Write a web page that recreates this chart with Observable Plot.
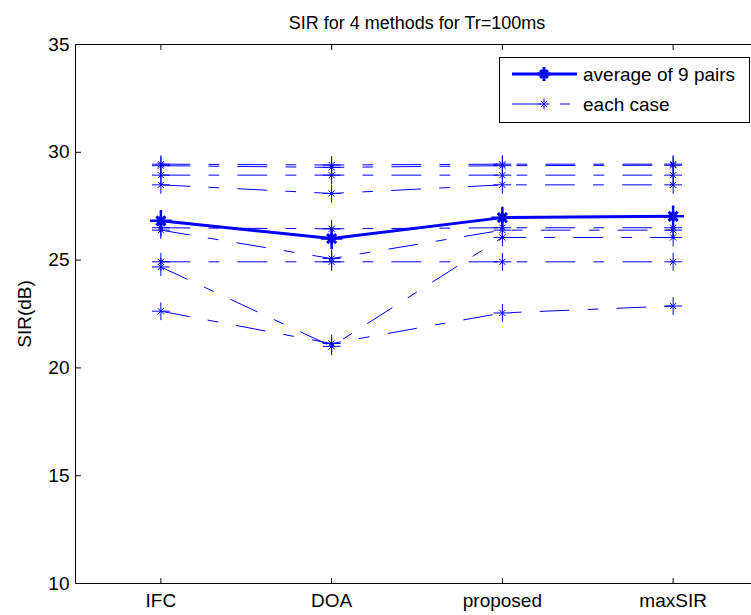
<!DOCTYPE html>
<html>
<head>
<meta charset="utf-8">
<script src="https://cdn.jsdelivr.net/npm/d3@7"></script>
<script src="https://cdn.jsdelivr.net/npm/@observablehq/plot@0.6"></script>
<style>
html, body { margin: 0; padding: 0; overflow: hidden; background: #fff; }
#wrap { position: relative; width: 751px; height: 615px; overflow: hidden; }
#legend { position: absolute; left: 499px; top: 57px; width: 249px; height: 64px; border: 1px solid #000; background: #fff; }
</style>
</head>
<body>
<div id="wrap"><div id="chart"></div><div id="legend"></div></div>
<script>
// ---- data ----
const methods = ["IFC", "DOA", "proposed", "maxSIR"];
const titleText = "SIR for 4 methods for Tr=100ms";
const yLabel = "SIR(dB)";
const yTicks = [10, 15, 20, 25, 30, 35];
const legendLabels = ["average of 9 pairs", "each case"];

// average over the 9 pairs
const average = [26.82, 26.0, 26.97, 27.03];

// each of the 9 cases (IFC, DOA, proposed, maxSIR)
const case1 = [29.45, 29.41, 29.45, 29.45];
const case2 = [29.38, 29.30, 29.38, 29.40];
const case3 = [28.94, 28.94, 28.94, 28.94];
const case4 = [28.49, 28.09, 28.49, 28.49];
const case5 = [26.50, 26.45, 26.50, 26.50];
const case6 = [26.39, 25.07, 26.39, 26.39];
const case7 = [24.92, 24.92, 24.92, 24.92];
const case8 = [24.68, 21.00, 26.05, 26.05];
const case9 = [22.63, 21.13, 22.55, 22.87];
const cases = [case1, case2, case3, case4, case5, case6, case7, case8, case9];

// ---- tables ----
const xTicks = methods.map((m, i) => i + 1);
const caseTable = cases.flatMap((vals, c) => vals.map((v, i) => ({caseId: c, x: i + 1, y: v})));
const avgTable = average.map((v, i) => ({x: i + 1, y: v}));

const blue = "#0000ff";
const dash = "29,19,10,19";
const font = "'Liberation Sans', Arial, Helvetica, sans-serif";
const tickShape = {draw(ctx, l) { ctx.moveTo(0, 0); ctx.lineTo(0, -l); }};
const tickOpts = {length: 5, anchor: "start", shape: tickShape, stroke: "#000", strokeWidth: 1};

const chart = Plot.plot({
  width: 759,
  height: 615,
  marginLeft: 75,
  marginRight: 1,
  marginTop: 44,
  marginBottom: 32,
  style: {fontFamily: font, maxWidth: "none", background: "#fff", overflow: "hidden"},
  x: {domain: [0.5, 4.5], axis: null},
  y: {domain: [10, 35], axis: null},
  marks: [
    Plot.frame({stroke: "#000", strokeWidth: 1}),
    Plot.axisX(xTicks, {anchor: "bottom", tickSize: 0, tickPadding: 10, fontSize: 19, tickFormat: d => methods[d - 1], label: null}),
    Plot.axisY(yTicks, {anchor: "left", tickSize: 0, tickPadding: 6, fontSize: 19, label: null}),
    Plot.vector(xTicks, {x: d => d, frameAnchor: "bottom", rotate: 0, ...tickOpts}),
    Plot.vector(xTicks, {x: d => d, frameAnchor: "top", rotate: 180, ...tickOpts}),
    Plot.vector(yTicks, {y: d => d, frameAnchor: "left", rotate: 90, ...tickOpts}),
    Plot.vector(yTicks, {y: d => d, frameAnchor: "right", rotate: -90, ...tickOpts}),
    Plot.text([titleText], {frameAnchor: "top", lineAnchor: "bottom", dy: -16, fontSize: 18, fill: "#000"}),
    Plot.text([yLabel], {frameAnchor: "left", rotate: -90, dx: -51, textAnchor: "middle", lineAnchor: "middle", fontSize: 19, fill: "#000"}),
    // average
    Plot.line(avgTable, {x: "x", y: "y", stroke: blue, strokeWidth: 3}),
    Plot.dot(avgTable, {x: "x", y: "y", symbol: "plus", r: 7, stroke: blue, strokeWidth: 2.5}),
    Plot.dot(avgTable, {x: "x", y: "y", symbol: "times", r: 4.2, stroke: blue, strokeWidth: 3}),
    Plot.dot(avgTable, {x: "x", y: "y", symbol: "diamond", r: 4, fill: blue}),
    // each case
    Plot.line(caseTable, {x: "x", y: "y", z: "caseId", stroke: blue, strokeWidth: 1, strokeDasharray: dash}),
    Plot.dot(caseTable, {x: "x", y: "y", symbol: "plus", r: 5.8, stroke: blue, strokeWidth: 1}),
    Plot.dot(caseTable, {x: "x", y: "y", symbol: "times", r: 2.9, stroke: blue, strokeWidth: 1})
  ]
});
document.getElementById("chart").appendChild(chart);

// ---- legend ----
const lg = d3.select("#legend").append("svg").attr("width", 249).attr("height", 64)
  .style("font-family", font).style("display", "block");
const rows = [
  {label: legendLabels[0], y: 16, w: 3, dash: null, pr: 7, tr: 5.5},
  {label: legendLabels[1], y: 46, w: 1, dash: dash, pr: 5.5, tr: 4}
];
rows.forEach(r => {
  const mw = r.w === 3 ? 3 : 1;
  lg.append("line").attr("x1", 12).attr("x2", 77).attr("y1", r.y).attr("y2", r.y)
    .attr("stroke", blue).attr("stroke-width", r.w).attr("stroke-dasharray", r.dash);
  lg.append("line").attr("x1", 44 - r.pr).attr("x2", 44 + r.pr).attr("y1", r.y).attr("y2", r.y)
    .attr("stroke", blue).attr("stroke-width", mw);
  lg.append("line").attr("x1", 44).attr("x2", 44).attr("y1", r.y - r.pr).attr("y2", r.y + r.pr)
    .attr("stroke", blue).attr("stroke-width", mw);
  const t = r.tr * 0.7;
  lg.append("line").attr("x1", 44 - t).attr("x2", 44 + t).attr("y1", r.y - t).attr("y2", r.y + t)
    .attr("stroke", blue).attr("stroke-width", mw);
  lg.append("line").attr("x1", 44 - t).attr("x2", 44 + t).attr("y1", r.y + t).attr("y2", r.y - t)
    .attr("stroke", blue).attr("stroke-width", mw);
  lg.append("text").attr("x", 83).attr("y", r.y).attr("dy", "0.35em")
    .attr("font-size", 19).attr("fill", "#000").text(r.label);
});
</script>
</body>
</html>
